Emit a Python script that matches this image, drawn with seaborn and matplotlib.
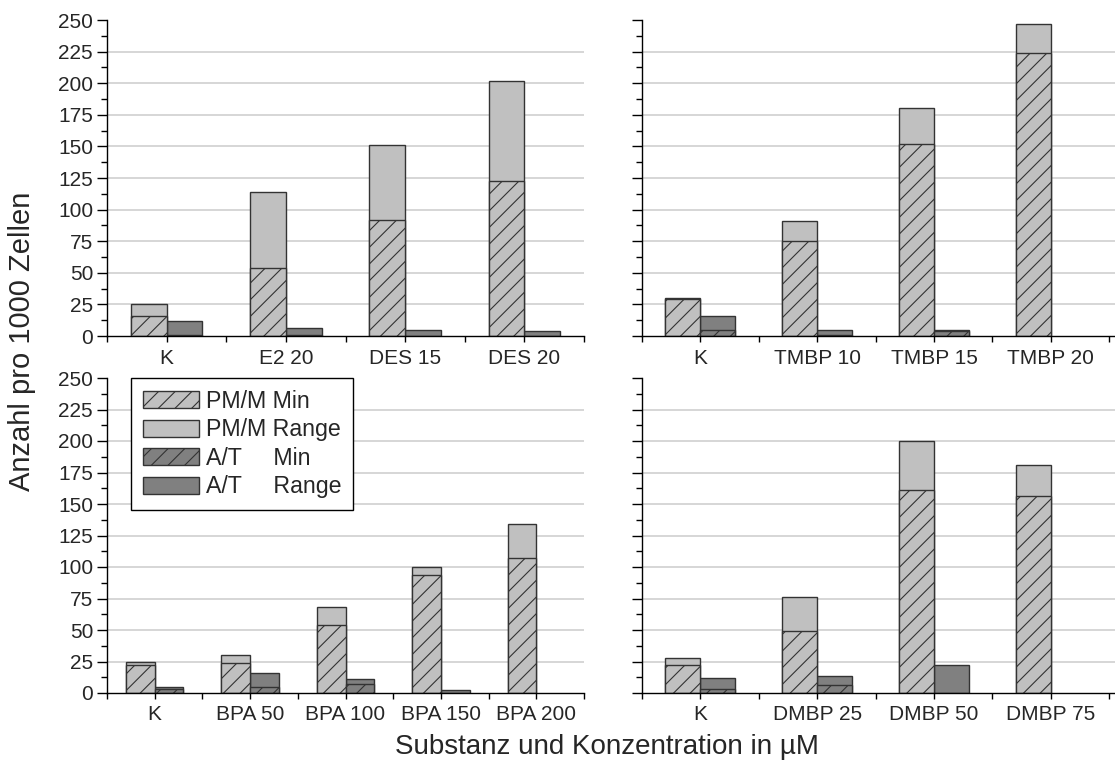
import numpy as np
import pandas as pd
import matplotlib
matplotlib.use("Agg")
import matplotlib.pyplot as plt
import seaborn as sns
from matplotlib.patches import Patch
from matplotlib.ticker import MultipleLocator, FixedLocator

sns.set_theme(style="white")
plt.rcParams['font.family'] = ['Liberation Sans', 'DejaVu Sans']
plt.rcParams['hatch.color'] = 'black'
plt.rcParams['hatch.linewidth'] = 0.8

# ---------------- data ----------------
cats_e = ["K", "E2 20", "DES 15", "DES 20"]
pm_min_e = [16, 54, 92, 123]
pm_max_e = [25, 114, 151, 202]
at_min_e = [1, 1, 0, 0]
at_max_e = [12, 6, 5, 4]

cats_t = ["K", "TMBP 10", "TMBP 15", "TMBP 20"]
pm_min_t = [29, 75, 152, 224]
pm_max_t = [30, 91, 180, 247]
at_min_t = [5, 1, 4, 0]
at_max_t = [16, 5, 5, 0]

cats_b = ["K", "BPA 50", "BPA 100", "BPA 150", "BPA 200"]
pm_min_b = [22, 24, 54, 94, 107]
pm_max_b = [25, 30, 68, 100, 134]
at_min_b = [3, 5, 7, 0, 0]
at_max_b = [5, 16, 11, 2, 0]

cats_d = ["K", "DMBP 25", "DMBP 50", "DMBP 75"]
pm_min_d = [22, 49, 161, 156]
pm_max_d = [28, 76, 200, 181]
at_min_d = [3, 6, 0, 0]
at_max_d = [12, 13.5, 22, 0]

groups = ["PM/M", "A/T"]
legend_labels = ["PM/M Min", "PM/M Range", "A/T     Min", "A/T     Range"]
y_ticks = list(range(0, 251, 25))

# ---------------- styles ----------------
LIGHT = "#c0c0c0"
DARK = "#808080"
EDGE = "#333333"
GRID = "#cccccc"
PAL = {"PM/M": LIGHT, "A/T": DARK}
HATCH = "//"

W, H = 1115, 767
fig = plt.figure(figsize=(W / 100, H / 100), dpi=100)


def add_ax(x0, x1, y0, y1):
    return fig.add_axes([x0 / W, 1 - y1 / H, (x1 - x0) / W, (y1 - y0) / H])


def panel(ax, cats, pm_min, pm_max, at_min, at_max, xmax, labels):
    n = len(cats)
    tot = pd.DataFrame({"cat": cats * 2, "grp": ["PM/M"] * n + ["A/T"] * n,
                        "val": list(pm_max) + list(at_max)})
    mn = pd.DataFrame({"cat": cats * 2, "grp": ["PM/M"] * n + ["A/T"] * n,
                       "val": list(pm_min) + list(at_min)})
    tot = tot[tot["val"] > 0]
    mn = mn[mn["val"] > 0]
    for yv in y_ticks[1:-1]:
        ax.axhline(yv, color=GRID, lw=1.1, zorder=0)
    sns.barplot(data=tot, x="cat", y="val", hue="grp", order=cats, hue_order=groups,
                palette=PAL, width=0.6, edgecolor=EDGE, linewidth=1.0, errorbar=None,
                legend=False, ax=ax, saturation=1, zorder=2)
    k = len(ax.patches)
    sns.barplot(data=mn, x="cat", y="val", hue="grp", order=cats, hue_order=groups,
                palette=PAL, width=0.6, edgecolor=EDGE, linewidth=1.0, errorbar=None,
                legend=False, ax=ax, saturation=1, zorder=3)
    for p in ax.patches[k:]:
        p.set_hatch(HATCH)
    ax.set_xlim(-0.5, xmax)
    ax.set_ylim(0, 250)
    ax.set_xlabel("")
    ax.set_ylabel("")
    for s in ["top", "right"]:
        ax.spines[s].set_visible(False)
    for s in ["left", "bottom"]:
        ax.spines[s].set_color("black")
        ax.spines[s].set_linewidth(1.0)
        ax.spines[s].set_zorder(5)
    ax.grid(False)
    ax.yaxis.set_major_locator(FixedLocator(y_ticks))
    ax.yaxis.set_minor_locator(MultipleLocator(12.5))
    ax.xaxis.set_minor_locator(FixedLocator(np.arange(-0.5, n, 1.0)))
    ax.tick_params(axis="both", which="both", direction="out", color="black",
                   width=1.0, bottom=True, left=True)
    ax.tick_params(axis="y", which="major", length=7, pad=3, labelsize=15)
    ax.tick_params(axis="y", which="minor", length=4)
    ax.tick_params(axis="x", which="both", length=4, pad=5, labelsize=15)
    if not labels:
        ax.tick_params(axis="y", labelleft=False)
    ax.set_facecolor("white")


ax1 = add_ax(107, 584, 20, 336)
ax2 = add_ax(642, 1115, 20, 336)
ax3 = add_ax(107, 584, 378, 693)
ax4 = add_ax(642, 1115, 378, 693)

panel(ax1, cats_e, pm_min_e, pm_max_e, at_min_e, at_max_e, 3.5, True)
panel(ax2, cats_t, pm_min_t, pm_max_t, at_min_t, at_max_t, 3.55, False)
panel(ax3, cats_b, pm_min_b, pm_max_b, at_min_b, at_max_b, 4.5, True)
panel(ax4, cats_d, pm_min_d, pm_max_d, at_min_d, at_max_d, 3.55, False)

handles = [
    Patch(facecolor=LIGHT, edgecolor=EDGE, hatch=HATCH, lw=1.0),
    Patch(facecolor=LIGHT, edgecolor=EDGE, lw=1.0),
    Patch(facecolor=DARK, edgecolor=EDGE, hatch=HATCH, lw=1.0),
    Patch(facecolor=DARK, edgecolor=EDGE, lw=1.0),
]
leg = ax3.legend(handles, legend_labels, loc="upper left", bbox_to_anchor=(24 / 477, 1.0),
                 fontsize=16.7, frameon=True, fancybox=False, framealpha=1,
                 edgecolor="black", handlelength=2.45, handleheight=0.75,
                 handletextpad=0.3, labelspacing=0.24, borderpad=0.5,
                 borderaxespad=0)
leg.get_frame().set_linewidth(1.0)
leg.set_zorder(10)

fig.text(22 / W, 1 - 341 / H, "Anzahl pro 1000 Zellen", rotation=90,
         ha="center", va="center", fontsize=21)
fig.text(607 / W, 1 - 747 / H, "Substanz und Konzentration in µM",
         ha="center", va="center", fontsize=20)

fig.savefig("out.png", dpi=100, facecolor="white")
